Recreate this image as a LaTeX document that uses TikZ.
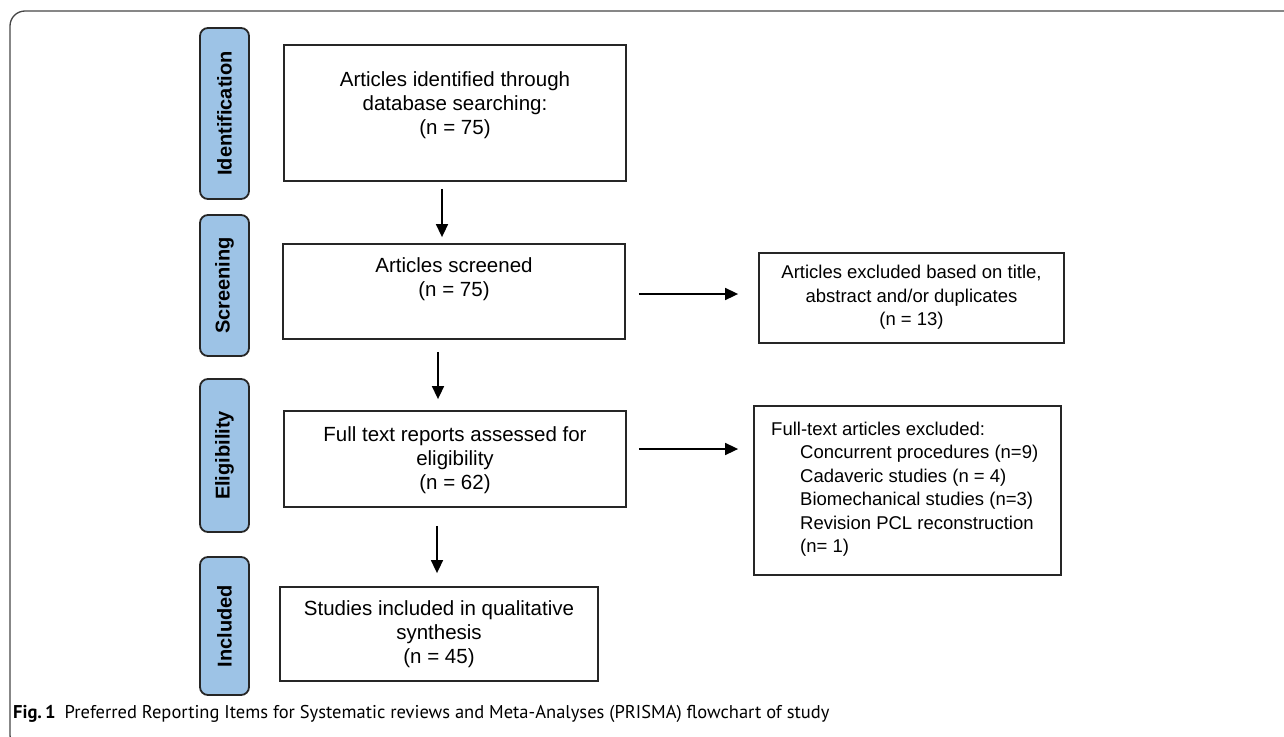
\documentclass[tikz,border=0pt]{standalone}
\usepackage{fontspec}
\setmainfont{Liberation Sans}
\newfontfamily\capfont{PT Sans}
\usetikzlibrary{arrows.meta,calc}
\definecolor{stageblue}{RGB}{157,195,230}
\definecolor{framegray}{RGB}{70,70,70}
\begin{document}
\begin{tikzpicture}[x=1pt,y=-1pt,
  stagebox/.style={draw=black!85,line width=1.8pt,fill=stageblue,rounded corners=8pt,
    rotate=90,inner sep=0pt,font=\fontsize{20}{24}\selectfont\bfseries},
  flowbox/.style={draw=black!85,line width=1.8pt,inner sep=0pt},
  flowtext/.style={align=center,inner sep=0pt,font=\fontsize{20.5}{24}\selectfont},
  sidetext/.style={align=center,inner sep=0pt,font=\fontsize{18.5}{23.5}\selectfont},
  arr/.style={line width=1.6pt,-{Triangle[length=13pt,width=12pt]}}]
\useasboundingbox (0,0) rectangle (1284,736);
% outer frame (top and left visible)
\draw[framegray,line width=1.3pt,rounded corners=15pt] (1320,11) -- (10,11) -- (10,750) -- (1320,750);
% stage labels
\node[stagebox,minimum width=171pt,minimum height=49pt] (sid) at (224.5,113.5) {Identification};
\node[stagebox,minimum width=141pt,minimum height=49pt] (ssc) at (224.5,285.5) {Screening};
\node[stagebox,minimum width=153pt,minimum height=49pt] (sel) at (224.5,455.5) {Eligibility};
\node[stagebox,minimum width=138pt,minimum height=49pt] (sin) at (224.5,626) {Included};
% boxes
\node[flowbox,minimum width=342pt,minimum height=136pt] (b1) at (455,113) {};
\node[flowbox,minimum width=342pt,minimum height=95pt] (b2) at (454,291.5) {};
\node[flowbox,minimum width=342pt,minimum height=96pt] (b3) at (455,459) {};
\node[flowbox,minimum width=318pt,minimum height=94pt] (b4) at (439,634) {};
\node[flowbox,minimum width=305pt,minimum height=90pt] (b5) at (911.5,298) {};
\node[flowbox,minimum width=307pt,minimum height=169pt] (b6) at (907.5,490.5) {};
% texts
\node[flowtext] (t1) at (455,105) {Articles identified through\\database searching:\\(n = 75)};
\node[flowtext] (t2) at (454,279) {Articles screened\\(n = 75)};
\node[flowtext] (t3) at (455,460) {Full text reports assessed for\\eligibility\\(n = 62)};
\node[flowtext] (t4) at (439,634) {Studies included in qualitative\\synthesis\\(n = 45)};
\node[sidetext] (t5) at (911.5,297.5) {Articles excluded based on title,\\abstract and/or duplicates\\(n = 13)};
\node[sidetext,align=left,anchor=north west] (t6) at (771,421.5) {Full-text articles excluded:\\
  \hspace*{29pt}Concurrent procedures (n=9)\\
  \hspace*{29pt}Cadaveric studies (n = 4)\\
  \hspace*{29pt}Biomechanical studies (n=3)\\
  \hspace*{29pt}Revision PCL reconstruction\\
  \hspace*{29pt}(n= 1)};
% arrows
\coordinate (ax1) at (442,0);
\coordinate (ax2) at (438,0);
\coordinate (ax3) at (437,0);
\draw[arr] ([yshift=-7pt]b1.south -| ax1) -- ([yshift=6pt]b2.north -| ax1);
\draw[arr] ([yshift=-12pt]b2.south -| ax2) -- ([yshift=11pt]b3.north -| ax2);
\draw[arr] ([yshift=-18pt]b3.south -| ax3) -- ([yshift=13pt]b4.north -| ax3);
\coordinate (ay1) at (0,294);
\coordinate (ay2) at (0,449);
\draw[arr] ([xshift=13pt]b2.east |- ay1) -- ([xshift=-20pt]b5.west |- ay1);
\draw[arr] ([xshift=12pt]b3.east |- ay2) -- ([xshift=-15pt]b6.west |- ay2);
% caption
\node[anchor=base west,inner sep=0pt,font=\capfont\fontsize{18.5}{21}\selectfont] (cap) at (13,718)
  {\textbf{Fig.\,1}\hspace{9pt}Preferred Reporting Items for Systematic reviews and Meta-Analyses (PRISMA) flowchart of study};
\end{tikzpicture}
\end{document}
